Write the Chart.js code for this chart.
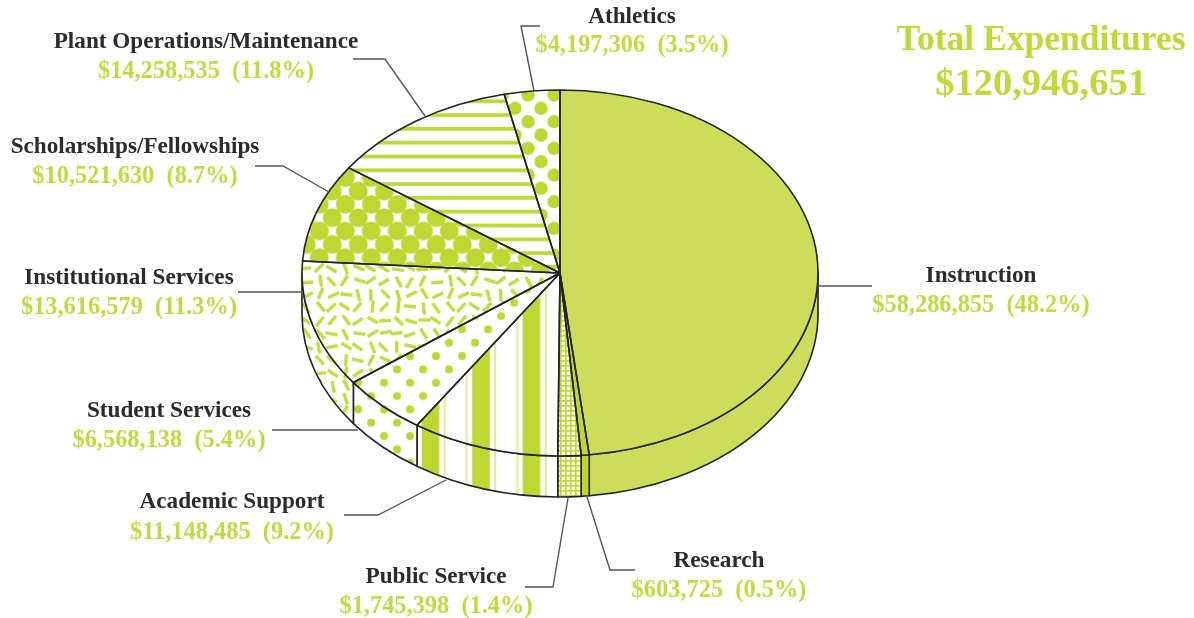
<!DOCTYPE html>
<html>
<head>
<meta charset="utf-8">
<title>Total Expenditures</title>
<script src="https://cdn.jsdelivr.net/npm/chart.js@4/dist/chart.umd.min.js"></script>
<style>
  html, body { margin: 0; padding: 0; background: #fff; }
  #wrap { width: 1194px; height: 618px; }
</style>
</head>
<body>
<div id="wrap"><canvas id="pie" width="1194" height="618"></canvas></div>
<script>
// data
const categories = ["Instruction", "Research", "Public Service", "Academic Support", "Student Services",
  "Institutional Services", "Scholarships/Fellowships", "Plant Operations/Maintenance", "Athletics"];
const expenditures = [58286855, 603725, 1745398, 11148485, 6568138, 13616579, 10521630, 14258535, 4197306];
const percents = ["48.2", "0.5", "1.4", "9.2", "5.4", "11.3", "8.7", "11.8", "3.5"];
const titleLines = ["Total Expenditures", "$120,946,651"];

// look of the pie
const CX = 560, CY = 273, R = 258, DEPTH = 41;
const SQUASH = 183 / 258;
const GREEN = "#bfd733", PALE = "#cddd5b", THIN = "#dde99a", TEXT_GREEN = "#c3d944", INK = "#2b2a2c";

// label centres and baselines [x, nameY, valueY], same order as categories
const labelPos = [[981, 282, 312], [719, 567, 597], [436, 583, 613], [232, 508, 539], [169, 417, 447],
  [129, 284, 314], [135, 153, 183], [206, 48, 78], [632, 23, 52]];
// leader polylines
const leaders = [
  [[818, 286], [872, 286]],
  [[635, 570], [610, 570], [587, 497]],
  [[525, 587], [553, 587], [568, 498]],
  [[344, 515], [378, 515], [446, 480]],
  [[272, 430], [358, 430]],
  [[238, 292], [303, 292]],
  [[255, 166], [283, 166], [329, 192]],
  [[353, 59], [385, 59], [425, 116]],
  [[540, 26], [521, 26], [534, 91]]
];

// tile of periodX x periodY, placed in page pixels whatever the squash is
function makePattern(periodX, periodY, originX, originY, drawTile) {
  const c = document.createElement("canvas");
  c.width = Math.round(periodX);
  c.height = Math.round(periodY);
  const g = c.getContext("2d");
  g.fillStyle = "#fff";
  g.fillRect(0, 0, c.width, c.height);
  g.scale(c.width / periodX, c.height / periodY);
  drawTile(g);
  const p = g.createPattern(c, "repeat");
  p.setTransform(new DOMMatrix()
    .translate(CX, CY).scale(1, 1 / SQUASH).translate(-CX, -CY)
    .translate(originX, originY)
    .scale(periodX / c.width, periodY / c.height));
  return p;
}

function staggeredDots(w, h, r) {
  return g => {
    g.fillStyle = GREEN;
    [[0, 0], [w, 0], [0, h], [w, h], [w / 2, h / 2]].forEach(([x, y]) => {
      g.beginPath();
      g.arc(x, y, r, 0, Math.PI * 2);
      g.fill();
    });
  };
}

function gridTile(g) {
  g.fillStyle = GREEN;
  g.fillRect(0, 0, 5, 1.7);
  g.fillRect(0, 0, 1.7, 5);
}

function barcodeTile(g) {
  g.fillStyle = GREEN;
  g.fillRect(0, 0, 17.5, 80);
  g.fillStyle = THIN;
  g.fillRect(22, 0, 2, 80);
  g.fillRect(44, 0, 2, 80);
}

function stripeTile(g) {
  g.fillStyle = GREEN;
  g.fillRect(0, 0, 40, 3.7);
}

// sprinkles: jittered grid from a small fixed generator so the texture never changes
function sprinkleTile(g) {
  const size = 130, step = 13;
  let seed = 41;
  const next = () => (seed = (seed * 16807) % 2147483647) / 2147483647;
  g.strokeStyle = "#c4dc44";
  g.lineWidth = 3.4;
  for (let i = 0; i < size / step; i++) {
    for (let j = 0; j < size / step; j++) {
      const x = (i + 0.5 + (next() - 0.5) * 0.2) * step;
      const y = (j + 0.5 + (next() - 0.5) * 0.2) * step;
      const a = next() * Math.PI;
      const dx = Math.cos(a) * 6, dy = Math.sin(a) * 6;
      [-size, 0, size].forEach(ox => [-size, 0, size].forEach(oy => {
        g.beginPath();
        g.moveTo(x + ox - dx, y + oy - dy);
        g.lineTo(x + ox + dx, y + oy + dy);
        g.stroke();
      }));
    }
  }
}

const fills = [
  PALE,
  GREEN,
  makePattern(5, 5, 0, 0, gridTile),
  makePattern(50.5, 20, 421.7, 0, barcodeTile),
  makePattern(26, 26.67, 410, 382.7, staggeredDots(26, 26.67, 4)),
  makePattern(130, 130, 300, 262, sprinkleTile),
  makePattern(26, 26.67, 358.3, 191, staggeredDots(26, 26.67, 9.5)),
  makePattern(20, 13.8, 0, 113.2, stripeTile),
  makePattern(26, 26.67, 515, 108.3, staggeredDots(26, 26.67, 6.7))
];

function squashCtx(ctx) {
  ctx.translate(CX, CY);
  ctx.scale(1, SQUASH);
  ctx.translate(-CX, -CY);
}

function strokeUnsquashed(ctx) {
  ctx.save();
  ctx.setTransform(1, 0, 0, 1, 0, 0);
  ctx.lineWidth = 1.6;
  ctx.strokeStyle = "#232323";
  ctx.lineJoin = "round";
  ctx.stroke();
  ctx.restore();
}

const money = n => "$" + n.toLocaleString("en-US");

const tiltPlugin = {
  id: "tilt",
  beforeDatasetsDraw(chart) {
    const ctx = chart.ctx;
    ctx.save();
    squashCtx(ctx);
    // side wall: only the part of each slice that faces the viewer
    chart.getDatasetMeta(0).data.forEach((arc, i) => {
      const a0 = Math.max(arc.startAngle, 0), a1 = Math.min(arc.endAngle, Math.PI);
      if (a1 <= a0) return;
      ctx.beginPath();
      ctx.arc(arc.x, arc.y, arc.outerRadius, a0, a1);
      ctx.arc(arc.x, arc.y + DEPTH / SQUASH, arc.outerRadius, a1, a0, true);
      ctx.closePath();
      ctx.fillStyle = fills[i];
      ctx.fill();
      strokeUnsquashed(ctx);
    });
  },
  afterDatasetsDraw(chart) {
    const ctx = chart.ctx;
    chart.getDatasetMeta(0).data.forEach(arc => {
      ctx.beginPath();
      ctx.moveTo(arc.x, arc.y);
      ctx.arc(arc.x, arc.y, arc.outerRadius, arc.startAngle, arc.endAngle);
      ctx.closePath();
      strokeUnsquashed(ctx);
    });
    ctx.restore();
  },
  afterDraw(chart) {
    const ctx = chart.ctx;
    ctx.save();
    ctx.strokeStyle = "#555";
    ctx.lineWidth = 1.4;
    leaders.forEach(line => {
      ctx.beginPath();
      line.forEach(([x, y], k) => k ? ctx.lineTo(x, y) : ctx.moveTo(x, y));
      ctx.stroke();
    });
    ctx.textAlign = "center";
    ctx.textBaseline = "alphabetic";
    categories.forEach((name, i) => {
      const [x, y1, y2] = labelPos[i];
      ctx.font = 'bold 23.2px "Liberation Serif"';
      ctx.fillStyle = INK;
      ctx.fillText(name, x, y1);
      ctx.font = 'bold 24.4px "Liberation Serif"';
      ctx.fillStyle = TEXT_GREEN;
      ctx.fillText(money(expenditures[i]) + "  (" + percents[i] + "%)", x, y2);
    });
    ctx.fillStyle = "#c1d73a";
    ctx.font = 'bold 35.5px "Liberation Serif"';
    ctx.fillText(titleLines[0], 1041, 50);
    ctx.font = 'bold 38.5px "Liberation Serif"';
    ctx.fillText(titleLines[1], 1041, 95);
    ctx.restore();
  }
};

new Chart(document.getElementById("pie"), {
  type: "pie",
  data: {
    labels: categories,
    datasets: [{ data: expenditures, backgroundColor: fills, borderWidth: 0, hoverOffset: 0 }]
  },
  options: {
    responsive: false,
    animation: false,
    layout: { padding: { left: CX - R, right: 1194 - CX - R, top: CY - R, bottom: 618 - CY - R } },
    plugins: { legend: { display: false }, tooltip: { enabled: false } },
    events: []
  },
  plugins: [tiltPlugin]
});
</script>
</body>
</html>
